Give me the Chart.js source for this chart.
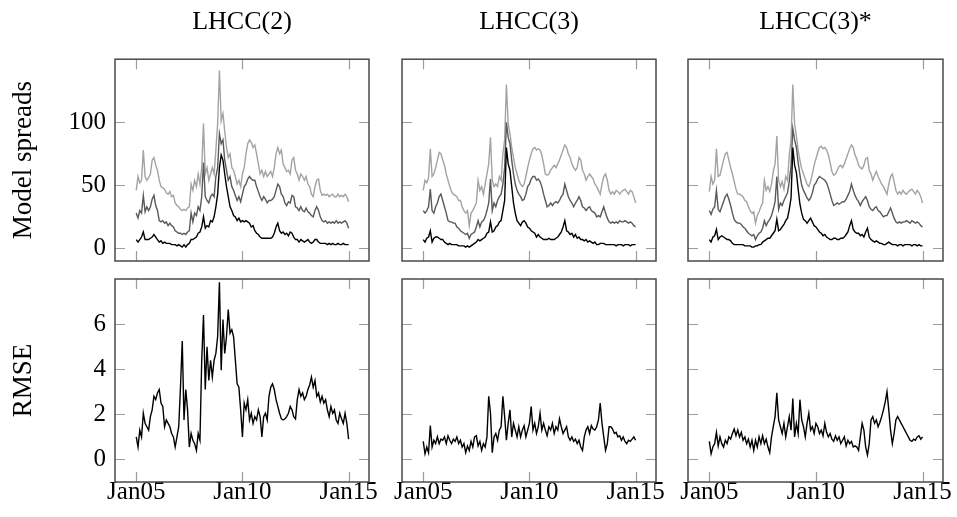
<!DOCTYPE html>
<html>
<head>
<meta charset="utf-8">
<title>LHCC model spreads</title>
<script src="https://cdn.jsdelivr.net/npm/chart.js@4/dist/chart.umd.min.js"></script>
<style>
  html, body { margin: 0; padding: 0; background: #fff; }
  #figure { position: relative; width: 957px; height: 517px; }
  #figure canvas { position: absolute; left: 0; top: 0; }
</style>
</head>
<body>
<div id="figure"></div>
<script>
// monthly observations, Jan05 ... Jan15
const startYear = 2005;
const xTicks = [2005, 2010, 2015];
const xTickLabels = ['Jan05', 'Jan10', 'Jan15'];
const spreadTicks = [0, 50, 100];
const rmseTicks = [0, 2, 4, 6];
const panelTitles = ['LHCC(2)', 'LHCC(3)', 'LHCC(3)*'];

// LHCC(2)
const lhcc2Long = [
  46, 57, 52, 54, 78, 57, 54, 56, 59, 70, 72, 66,
  62, 54, 49, 48, 47, 44, 43, 45, 41, 42, 36, 34,
  33, 31, 30, 31, 30, 32, 33, 51, 46, 54, 49, 59,
  51, 64, 99, 59, 64, 54, 59, 64, 59, 78, 99, 141,
  101, 107, 93, 80, 72, 75, 64, 62, 57, 51, 54, 49,
  59, 64, 75, 83, 86, 84, 80, 82, 75, 67, 59, 62,
  57, 61, 57, 59, 61, 57, 64, 75, 80, 75, 78, 67,
  64, 61, 62, 59, 70, 72, 62, 59, 54, 59, 57, 54,
  57, 51, 49, 43, 41, 49, 54, 55, 46, 42, 43, 42,
  43, 41, 42, 43, 41, 41, 43, 41, 42, 41, 43, 41,
  37
];
const lhcc2Mid = [
  28, 24, 30, 28, 42, 29, 33, 30, 33, 39, 42, 34,
  30, 22, 21, 22, 20, 21, 18, 20, 18, 17, 14, 13,
  12, 12, 11, 12, 11, 13, 14, 28, 21, 28, 26, 33,
  30, 41, 68, 41, 38, 36, 41, 43, 41, 57, 64, 91,
  83, 86, 70, 62, 54, 57, 49, 46, 42, 38, 41, 37,
  43, 49, 51, 55, 57, 55, 54, 54, 49, 45, 41, 38,
  41, 39, 36, 38, 38, 39, 41, 46, 51, 49, 43, 41,
  36, 34, 37, 36, 42, 41, 33, 32, 30, 33, 30, 29,
  32, 29, 28, 26, 25, 30, 33, 30, 25, 22, 21, 22,
  20, 21, 20, 21, 20, 22, 20, 21, 20, 21, 22, 20,
  16
];
const lhcc2Short = [
  7, 5, 7, 9, 13, 7, 7, 7, 8, 9, 11, 9,
  7, 5, 6, 4, 5, 4, 4, 4, 3, 3, 3, 2,
  3, 2, 1, 3, 1, 3, 4, 7, 7, 8, 9, 12,
  13, 17, 25, 16, 18, 17, 22, 21, 25, 33, 43, 64,
  74, 70, 59, 49, 41, 33, 30, 26, 25, 22, 24, 21,
  22, 21, 22, 21, 20, 17, 18, 14, 12, 11, 9, 8,
  8, 8, 8, 8, 8, 9, 12, 17, 20, 14, 12, 13,
  11, 12, 10, 13, 12, 9, 7, 7, 5, 7, 6, 5,
  6, 7, 5, 4, 5, 7, 7, 5, 4, 4, 4, 4,
  3, 4, 3, 4, 3, 3, 4, 3, 3, 4, 3, 3,
  3
];
const lhcc2Rmse = [
  1.0, 0.55, 1.3, 1.0, 2.05, 1.6, 1.45, 1.3, 1.9, 2.2, 2.8, 2.65,
  2.95, 3.1, 2.5, 2.35, 1.45, 1.75, 1.6, 1.45, 1.15, 1.0, 0.55, 1.0,
  1.45, 3.2, 5.25, 1.75, 3.1, 2.2, 0.55, 1.15, 0.85, 0.7, 0.4, 1.15,
  0.85, 4.4, 6.4, 3.1, 5.0, 3.5, 4.4, 3.65, 4.4, 4.7, 5.45, 7.85,
  3.95, 6.2, 4.7, 5.45, 6.65, 5.6, 5.75, 5.45, 4.4, 3.35, 3.2, 2.2,
  1.0, 2.5, 2.2, 2.65, 1.75, 2.05, 1.6, 1.9, 1.75, 2.2, 1.9, 1.0,
  1.9, 2.05, 1.75, 2.8, 3.2, 3.35, 3.1, 2.65, 2.35, 2.05, 1.8, 1.75,
  1.8, 1.9, 2.05, 2.35, 2.2, 1.9, 1.8, 2.65, 3.1, 2.8, 2.95, 2.65,
  2.8, 3.1, 3.3, 3.65, 3.2, 3.5, 2.8, 2.95, 2.55, 2.8, 2.5, 2.65,
  2.2, 1.9, 2.35, 2.05, 2.2, 1.75, 1.6, 2.05, 1.8, 1.6, 2.05, 1.6,
  0.9
];

// LHCC(3)
const lhcc3Long = [
  46, 54, 52, 56, 79, 57, 59, 64, 70, 76, 75, 70,
  66, 59, 54, 49, 45, 43, 42, 41, 38, 38, 33, 30,
  28, 30, 18, 28, 30, 33, 36, 54, 46, 49, 43, 51,
  59, 67, 88, 54, 49, 51, 49, 57, 54, 75, 86, 130,
  99, 91, 80, 72, 64, 59, 54, 51, 49, 51, 57, 64,
  70, 75, 79, 80, 78, 79, 78, 74, 67, 59, 58, 59,
  62, 64, 66, 64, 67, 70, 74, 78, 82, 80, 75, 72,
  67, 64, 62, 64, 72, 70, 62, 59, 54, 57, 59, 57,
  55, 51, 49, 46, 43, 51, 57, 59, 54, 46, 43, 45,
  43, 46, 45, 43, 45, 46, 47, 45, 43, 46, 45, 41,
  36
];
const lhcc3Mid = [
  30, 28, 30, 33, 47, 30, 28, 33, 36, 41, 43, 38,
  33, 28, 22, 21, 21, 20, 20, 17, 16, 14, 13, 12,
  11, 12, 8, 11, 12, 13, 17, 22, 17, 21, 22, 25,
  30, 36, 55, 30, 36, 33, 38, 41, 43, 51, 64, 100,
  88, 83, 70, 59, 51, 46, 43, 41, 38, 39, 43, 49,
  51, 55, 57, 57, 54, 55, 53, 49, 43, 38, 33, 34,
  36, 34, 36, 37, 36, 38, 41, 43, 51, 46, 41, 38,
  36, 33, 36, 38, 41, 38, 33, 32, 30, 32, 33, 30,
  29, 28, 25, 26, 25, 29, 33, 28, 24, 21, 20, 21,
  20, 21, 20, 22, 21, 21, 22, 21, 20, 21, 20, 18,
  17
];
const lhcc3Short = [
  7, 5, 8, 9, 14, 5, 8, 9, 9, 8, 7, 7,
  5, 4, 3, 4, 3, 3, 3, 3, 2, 2, 2, 2,
  1, 2, 1, 2, 3, 4, 5, 7, 6, 7, 8, 9,
  12, 13, 21, 13, 14, 17, 18, 21, 22, 30, 38, 80,
  67, 62, 49, 36, 28, 22, 20, 18, 21, 22, 20, 17,
  16, 14, 13, 12, 9, 11, 9, 8, 7, 7, 7, 8,
  7, 7, 7, 8, 9, 11, 13, 17, 22, 14, 13, 11,
  12, 9, 11, 8, 9, 7, 7, 6, 7, 5, 6, 5,
  4, 5, 3, 3, 4, 4, 4, 3, 3, 3, 3, 3,
  3, 2, 3, 3, 3, 2, 3, 3, 3, 2, 3, 3,
  3
];
const lhcc3Rmse = [
  0.8, 0.25, 0.55, 0.3, 1.5, 0.55, 0.85, 0.7, 1.0, 0.7, 0.9, 0.85,
  1.0, 0.7, 1.05, 0.85, 0.7, 0.9, 0.8, 1.0, 0.7, 0.85, 0.55, 0.7,
  0.3, 0.6, 0.4, 0.8, 0.55, 1.0, 1.05, 0.6, 0.8, 0.4, 0.7, 0.55,
  1.0, 2.8, 2.05, 0.3, 1.0, 1.15, 0.85, 1.3, 1.45, 2.8, 1.9, 0.85,
  1.6, 2.2, 1.0, 1.6, 1.3, 1.0, 1.45, 1.0, 1.3, 1.5, 1.0, 1.3,
  1.6, 2.35, 1.3, 1.6, 1.15, 1.45, 2.05, 1.3, 1.6, 1.3, 1.05, 1.45,
  1.3, 1.6, 1.15, 1.45, 1.3, 1.8, 1.45, 1.15, 1.3, 1.45, 1.0, 0.85,
  1.0, 0.8, 0.9, 0.7, 0.85, 0.55, 0.4, 1.0, 1.3, 1.45, 1.15, 1.5,
  1.35, 1.3, 1.45, 1.75, 2.5, 1.6, 1.0, 0.4, 0.7, 1.45, 1.45, 1.35,
  1.15, 1.2, 1.0, 1.05, 0.85, 1.0, 0.8, 0.7, 0.85, 0.8, 0.9, 1.0,
  0.85
];

// LHCC(3)*
const lhcc3sLong = [
  45, 57, 51, 54, 79, 57, 58, 64, 70, 75, 76, 70,
  64, 59, 53, 47, 43, 43, 42, 41, 38, 37, 33, 30,
  28, 29, 20, 26, 29, 33, 36, 54, 46, 49, 45, 51,
  61, 67, 89, 54, 49, 53, 47, 57, 54, 74, 86, 130,
  99, 89, 78, 70, 63, 59, 55, 51, 49, 53, 59, 66,
  71, 76, 80, 81, 79, 80, 78, 74, 68, 61, 58, 59,
  62, 65, 66, 64, 67, 71, 75, 79, 82, 80, 74, 71,
  66, 64, 63, 66, 71, 72, 62, 59, 54, 58, 61, 57,
  54, 51, 49, 46, 43, 51, 57, 59, 53, 46, 43, 45,
  43, 46, 44, 43, 45, 46, 47, 45, 43, 46, 44, 41,
  36
];
const lhcc3sMid = [
  30, 27, 31, 33, 46, 31, 29, 33, 37, 41, 43, 39,
  34, 28, 23, 21, 20, 20, 19, 17, 16, 14, 12, 11,
  10, 11, 7, 10, 12, 13, 16, 22, 18, 21, 23, 26,
  31, 37, 57, 31, 36, 34, 38, 41, 44, 53, 66, 95,
  86, 80, 68, 58, 50, 46, 43, 40, 38, 40, 44, 50,
  52, 55, 57, 56, 55, 54, 52, 48, 43, 38, 34, 35,
  36, 35, 36, 37, 37, 39, 42, 45, 51, 46, 42, 39,
  37, 34, 37, 39, 41, 38, 33, 31, 30, 32, 33, 30,
  29, 27, 25, 26, 26, 29, 32, 28, 24, 21, 20, 21,
  20, 21, 21, 22, 21, 20, 22, 21, 20, 21, 20, 18,
  17
];
const lhcc3sShort = [
  7, 5, 9, 10, 15, 7, 9, 10, 9, 8, 7, 7,
  6, 4, 3, 3, 3, 3, 3, 3, 2, 2, 2, 2,
  1, 1, 2, 2, 3, 3, 5, 6, 7, 8, 8, 10,
  12, 14, 23, 14, 15, 17, 19, 22, 24, 31, 40, 80,
  66, 60, 47, 35, 28, 23, 22, 20, 22, 24, 21, 18,
  17, 15, 13, 12, 10, 11, 9, 8, 7, 7, 8, 8,
  7, 7, 8, 8, 9, 11, 13, 18, 22, 15, 13, 12,
  12, 10, 11, 9, 13, 16, 9, 7, 6, 5, 6, 5,
  4, 4, 3, 3, 4, 5, 4, 3, 3, 3, 2, 3,
  3, 2, 3, 3, 3, 3, 2, 3, 3, 2, 3, 2,
  2
];
const lhcc3sRmse = [
  0.8, 0.25, 0.55, 0.7, 1.2, 0.6, 1.0, 0.7, 0.55, 0.85, 0.7, 1.0,
  0.9, 1.15, 1.35, 1.05, 1.3, 1.0, 1.2, 0.85, 1.0, 0.7, 0.9, 0.55,
  0.85, 0.4, 0.85, 0.55, 1.0, 0.7, 1.05, 0.7, 0.9, 0.55, 0.3, 1.0,
  1.45, 1.9, 2.95, 1.75, 1.45, 1.15, 1.6, 1.0, 1.45, 1.9, 1.3, 2.7,
  1.0, 1.6, 1.15, 2.65, 1.75, 1.45, 1.0, 1.6, 2.05, 1.3, 1.45, 1.15,
  1.6, 1.45, 1.15, 1.3, 1.05, 1.6, 1.2, 1.0, 1.15, 0.9, 0.8, 1.05,
  0.85, 1.0, 0.7, 0.85, 1.0, 0.6, 0.85, 0.7, 0.8, 0.55, 0.6, 0.55,
  0.4, 1.0, 1.6, 1.3, 0.55, 0.2, 0.7, 1.75, 1.9, 1.6, 1.75, 1.45,
  1.65, 1.9, 2.2, 2.55, 3.0, 2.2, 1.3, 0.7, 1.15, 1.75, 1.9, 1.75,
  1.6, 1.45, 1.3, 1.15, 1.0, 0.85, 0.8, 0.9, 0.85, 1.0, 1.05, 0.9,
  1.0
];

const W = 957, H = 517;
const colLeft = [115, 402, 688];
const colRight = [369, 656, 943];
const rowTop = [59, 279];
const rowBottom = [261, 482];

const SERIF = '"Liberation Serif", "Times New Roman", serif';
Chart.defaults.font.family = SERIF;
Chart.defaults.font.size = 25;
Chart.defaults.color = '#000';

const toPoints = values => values.map((v, i) => ({ x: startYear + i / 12, y: v }));

// pgfplots-style box with ticks pointing inwards on all four sides
const frame = {
  id: 'frame',
  afterDraw(chart, args, opts) {
    const { ctx, chartArea: a, scales: { x, y } } = chart;
    const len = 10;
    ctx.save();
    ctx.strokeStyle = '#9c9c9c';
    ctx.lineWidth = 1.2;
    ctx.beginPath();
    opts.xTicks.forEach(v => {
      const px = Math.round(x.getPixelForValue(v)) + 0.5;
      ctx.moveTo(px, a.top); ctx.lineTo(px, a.top + len);
      ctx.moveTo(px, a.bottom); ctx.lineTo(px, a.bottom - len);
    });
    opts.yTicks.forEach(v => {
      const py = Math.round(y.getPixelForValue(v)) + 0.5;
      ctx.moveTo(a.left, py); ctx.lineTo(a.left + len, py);
      ctx.moveTo(a.right, py); ctx.lineTo(a.right - len, py);
    });
    ctx.stroke();
    ctx.strokeStyle = '#4a4a4a';
    ctx.lineWidth = 1.5;
    ctx.strokeRect(a.left, a.top, a.right - a.left, a.bottom - a.top);
    ctx.restore();
  }
};

function makePanel(row, col, lines, yMin, yMax, yTicks, yTitle) {
  const canvas = document.createElement('canvas');
  canvas.width = W;
  canvas.height = H;
  document.getElementById('figure').appendChild(canvas);
  const first = col === 0;
  const top = row === 0;

  return new Chart(canvas, {
    type: 'line',
    data: {
      datasets: lines.map(l => ({
        data: toPoints(l.values),
        borderColor: l.color,
        borderWidth: 1.4,
        pointRadius: 0,
        tension: 0
      }))
    },
    options: {
      responsive: false,
      animation: false,
      events: [],
      layout: {
        padding: {
          left: first ? 0 : colLeft[col],
          right: W - colRight[col],
          top: top ? 7 : rowTop[row],
          bottom: top ? H - rowBottom[row] : 0
        }
      },
      plugins: {
        legend: { display: false },
        tooltip: { enabled: false },
        title: {
          display: top,
          fullSize: false,
          text: panelTitles[col],
          font: { size: 26, weight: 'normal', lineHeight: 1.2 },
          color: '#000',
          padding: { top: 0, bottom: 21 }
        },
        frame: { xTicks, yTicks }
      },
      scales: {
        x: {
          type: 'linear',
          min: 2004,
          max: 2015.96,
          grid: { display: false, drawTicks: false },
          border: { display: false },
          afterBuildTicks: s => { s.ticks = xTicks.map(v => ({ value: v })); },
          afterFit: s => { s.height = top ? 0 : H - rowBottom[row]; },
          ticks: {
            display: !top,
            autoSkip: false,
            maxRotation: 0,
            padding: -2,
            font: { lineHeight: 1 },
            callback: (v, i) => xTickLabels[i]
          }
        },
        y: {
          type: 'linear',
          min: yMin,
          max: yMax,
          grid: { display: false, drawTicks: false },
          border: { display: false },
          afterBuildTicks: s => { s.ticks = yTicks.map(v => ({ value: v })); },
          afterFit: s => { s.width = first ? colLeft[0] : 0; },
          ticks: { display: first, padding: 9 },
          title: {
            display: first,
            text: yTitle,
            font: { size: 27, lineHeight: 1.2 },
            padding: { top: 8, bottom: 0 }
          }
        }
      }
    },
    plugins: [frame]
  });
}

const LIGHT = '#a3a3a3', DARK = '#595959', BLACK = '#000000';

const spreads = [
  [lhcc2Short, lhcc2Mid, lhcc2Long],
  [lhcc3Short, lhcc3Mid, lhcc3Long],
  [lhcc3sShort, lhcc3sMid, lhcc3sLong]
];
const rmse = [lhcc2Rmse, lhcc3Rmse, lhcc3sRmse];

spreads.forEach((s, col) => {
  makePanel(0, col, [
    { values: s[0], color: BLACK },
    { values: s[1], color: DARK },
    { values: s[2], color: LIGHT }
  ], -10, 150, spreadTicks, 'Model spreads');
});

rmse.forEach((r, col) => {
  makePanel(1, col, [{ values: r, color: BLACK }], -1, 8, rmseTicks, 'RMSE');
});
</script>
</body>
</html>
